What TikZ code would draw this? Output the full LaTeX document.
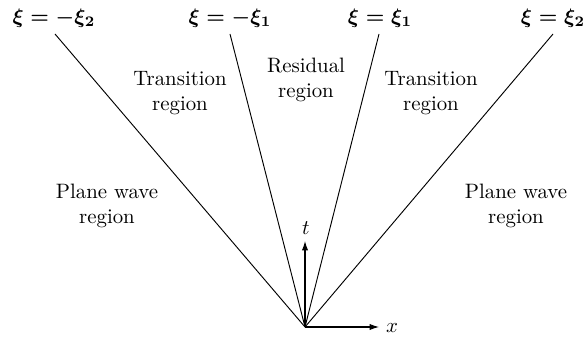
\documentclass[tikz,border=0pt]{standalone}
\usepackage{amsmath,bm}
\usetikzlibrary{arrows.meta}
\begin{document}
\begin{tikzpicture}[x=0.48pt,y=-0.48pt,
  lbl/.style={align=center,inner sep=0pt,font=\normalsize},
  eq/.style={inner sep=0pt,font=\boldmath},
  ray/.style={draw=black,line width=0.45pt},
  axis/.style={draw=black,line width=0.5pt,-{Latex[length=4.5pt,width=3pt]}}]
\useasboundingbox (0,0) rectangle (587,337);
\coordinate (o) at (305,327);
\coordinate (a) at (55,34);
\coordinate (b) at (230,34);
\coordinate (c) at (379,34);
\coordinate (d) at (553,34);
\coordinate (tt) at (305,241);
\coordinate (xx) at (379,327);
\draw[ray] (a) -- (o);
\draw[ray] (b) -- (o);
\draw[ray] (c) -- (o);
\draw[ray] (d) -- (o);
\draw[axis] (o) -- (tt);
\draw[axis] (o) -- (xx);
\node[lbl] (tl) at (306,228) {$t$};
\node[lbl] (xl) at (392,328) {$x$};
\node[eq] (la) at (54,18) {$\xi=-\xi_{\mathbf{2}}$};
\node[eq] (lb) at (230,18) {$\xi=-\xi_{\mathbf{1}}$};
\node[eq] (lc) at (380,18) {$\xi=\xi_{\mathbf{1}}$};
\node[eq] (ld) at (553,18) {$\xi=\xi_{\mathbf{2}}$};
\node[lbl] (r1) at (180,93) {Transition\\region};
\node[lbl] (r2) at (306,80) {Residual\\region};
\node[lbl] (r3) at (431,93) {Transition\\region};
\node[lbl] (r4) at (107,206) {Plane wave\\region};
\node[lbl] (r5) at (516,206) {Plane wave\\region};
\end{tikzpicture}
\end{document}
